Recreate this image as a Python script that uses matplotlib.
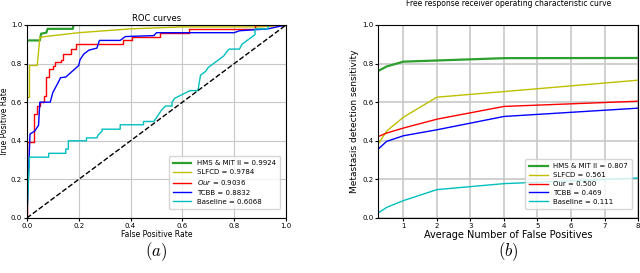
import matplotlib
matplotlib.use('Agg')
import matplotlib.pyplot as plt

# ROC curves (left panel)
roc_labels = ['HMS & MIT II = 0.9924', 'SLFCD = 0.9784', '$Our$ = 0.9036', 'TCBB = 0.8832', 'Baseline = 0.6068']
colors = ['tab:green', 'y', 'r', 'b', 'c']

hms_fpr = [0, 0, 0.05, 0.055, 0.075, 0.08, 0.177, 0.18, 1.0]
hms_tpr = [0, 0.92, 0.92, 0.955, 0.96, 0.98, 0.98, 1.0, 1.0]

slfcd_fpr = [0, 0, 0.01, 0.01, 0.04, 0.05, 0.07, 0.2, 0.4, 0.6, 0.9, 1.0]
slfcd_tpr = [0, 0.625, 0.625, 0.79, 0.79, 0.935, 0.94, 0.96, 0.98, 0.99, 0.99, 1.0]

our_fpr = [0, 0, 0.026, 0.026, 0.04, 0.04, 0.05, 0.05, 0.065, 0.065, 0.075, 0.075, 0.085, 0.085,
           0.1, 0.1, 0.11, 0.11, 0.13, 0.13, 0.14, 0.14, 0.17, 0.17, 0.19, 0.19, 0.37, 0.37, 0.405, 0.405,
           0.514, 0.514, 0.625, 0.625, 0.88, 0.88, 1.0]
our_tpr = [0, 0.395, 0.395, 0.54, 0.54, 0.58, 0.58, 0.6, 0.6, 0.63, 0.63, 0.73, 0.73, 0.77,
           0.77, 0.79, 0.79, 0.81, 0.81, 0.82, 0.82, 0.85, 0.85, 0.875, 0.875, 0.9, 0.9, 0.92, 0.92, 0.94,
           0.94, 0.96, 0.96, 0.98, 0.98, 1.0, 1.0]

tcbb_fpr = [0, 0.012, 0.03, 0.04, 0.045, 0.05, 0.09, 0.1, 0.12, 0.13, 0.15, 0.2, 0.205, 0.22, 0.24,
            0.27, 0.28, 0.36, 0.37, 0.38, 0.49, 0.5, 0.8, 0.82, 0.93, 1.0]
tcbb_tpr = [0, 0.435, 0.45, 0.47, 0.48, 0.6, 0.6, 0.65, 0.7, 0.727, 0.73, 0.79, 0.82, 0.85, 0.87,
            0.88, 0.92, 0.92, 0.93, 0.94, 0.945, 0.96, 0.96, 0.97, 0.98, 1.0]

base_fpr = [0, 0.01, 0.084, 0.084, 0.15, 0.15, 0.16, 0.16, 0.23, 0.23, 0.27, 0.275, 0.29, 0.29, 0.36, 0.36,
            0.45, 0.45, 0.49, 0.5, 0.51, 0.52, 0.535, 0.56, 0.56, 0.57, 0.6, 0.63, 0.66, 0.665, 0.67, 0.69,
            0.7, 0.71, 0.72, 0.74, 0.76, 0.77, 0.78, 0.82, 0.83, 0.85, 0.87, 0.88, 0.88, 0.93, 0.93, 1.0]
base_tpr = [0, 0.315, 0.315, 0.335, 0.335, 0.357, 0.357, 0.4, 0.4, 0.415, 0.415, 0.43, 0.45, 0.46, 0.46, 0.483,
            0.483, 0.5, 0.5, 0.52, 0.54, 0.56, 0.58, 0.58, 0.6, 0.62, 0.64, 0.66, 0.66, 0.7, 0.74, 0.76,
            0.78, 0.79, 0.8, 0.82, 0.84, 0.86, 0.875, 0.875, 0.9, 0.92, 0.94, 0.95, 0.98, 0.98, 1.0, 1.0]

# FROC curves (right panel)
froc_labels = ['HMS & MIT II = 0.807', 'SLFCD = 0.561', 'Our = 0.500', 'TCBB = 0.469', 'Baseline = 0.111']
avg_fp = [0.25, 0.5, 1, 2, 4, 8]
hms_sens = [0.762, 0.785, 0.81, 0.816, 0.828, 0.829]
slfcd_sens = [0.384, 0.45, 0.522, 0.626, 0.655, 0.714]
our_sens = [0.422, 0.44, 0.466, 0.512, 0.578, 0.605]
tcbb_sens = [0.357, 0.397, 0.426, 0.457, 0.526, 0.569]
base_sens = [0.026, 0.055, 0.09, 0.147, 0.178, 0.207]

fig = plt.figure(figsize=(6.4, 2.73), dpi=100)
ax1 = fig.add_axes([0.042, 0.2015, 0.405, 0.707])
ax2 = fig.add_axes([0.591, 0.2015, 0.406, 0.707])

roc = [(hms_fpr, hms_tpr), (slfcd_fpr, slfcd_tpr), (our_fpr, our_tpr), (tcbb_fpr, tcbb_tpr), (base_fpr, base_tpr)]
for i, (fpr, tpr) in enumerate(roc):
    ax1.plot(fpr, tpr, color=colors[i], lw=1.6 if i == 0 else 1, label=roc_labels[i])
ax1.plot([0, 1], [0, 1], 'k--', lw=1)
ax1.set_xlim(0, 1)
ax1.set_ylim(0, 1)
ax1.grid(True, color='#c8c8c8', lw=0.8)
ax1.tick_params(labelsize=5, length=2, pad=1.5)
ax1.set_xlabel('False Positive Rate', fontsize=5.5, labelpad=1)
ax1.set_ylabel('True Positive Rate', fontsize=5.5, labelpad=1)
ax1.set_title('ROC curves', fontsize=6, pad=3)
ax1.legend(loc='lower right', fontsize=5, handlelength=2.6, borderpad=0.6, labelspacing=0.4,
           bbox_to_anchor=(0.99, 0.03))
ax1.text(0.5, -0.175, '$(a)$', transform=ax1.transAxes, ha='center', va='center', fontsize=12,
         math_fontfamily='cm')

froc = [hms_sens, slfcd_sens, our_sens, tcbb_sens, base_sens]
for i, sens in enumerate(froc):
    ax2.plot(avg_fp, sens, color=colors[i], lw=1.6 if i == 0 else 1, label=froc_labels[i])
ax2.set_xlim(0.25, 8)
ax2.set_ylim(0, 1)
ax2.set_xticks(range(1, 9))
ax2.grid(True, color='#c8c8c8', lw=1.2)
ax2.tick_params(labelsize=5, length=2, pad=1.5)
ax2.set_xlabel('Average Number of False Positives', fontsize=7, labelpad=1)
ax2.set_ylabel('Metastasis detection sensitivity', fontsize=6.5, labelpad=2)
ax2.set_title('Free response receiver operating characteristic curve', fontsize=5.5, pad=14)
ax2.legend(loc='lower right', fontsize=5, handlelength=2.6, borderpad=0.6, labelspacing=0.4,
           bbox_to_anchor=(0.99, 0.03))
ax2.text(0.5, -0.175, '$(b)$', transform=ax2.transAxes, ha='center', va='center', fontsize=12,
         math_fontfamily='cm')

fig.savefig('out.png', dpi=100)
